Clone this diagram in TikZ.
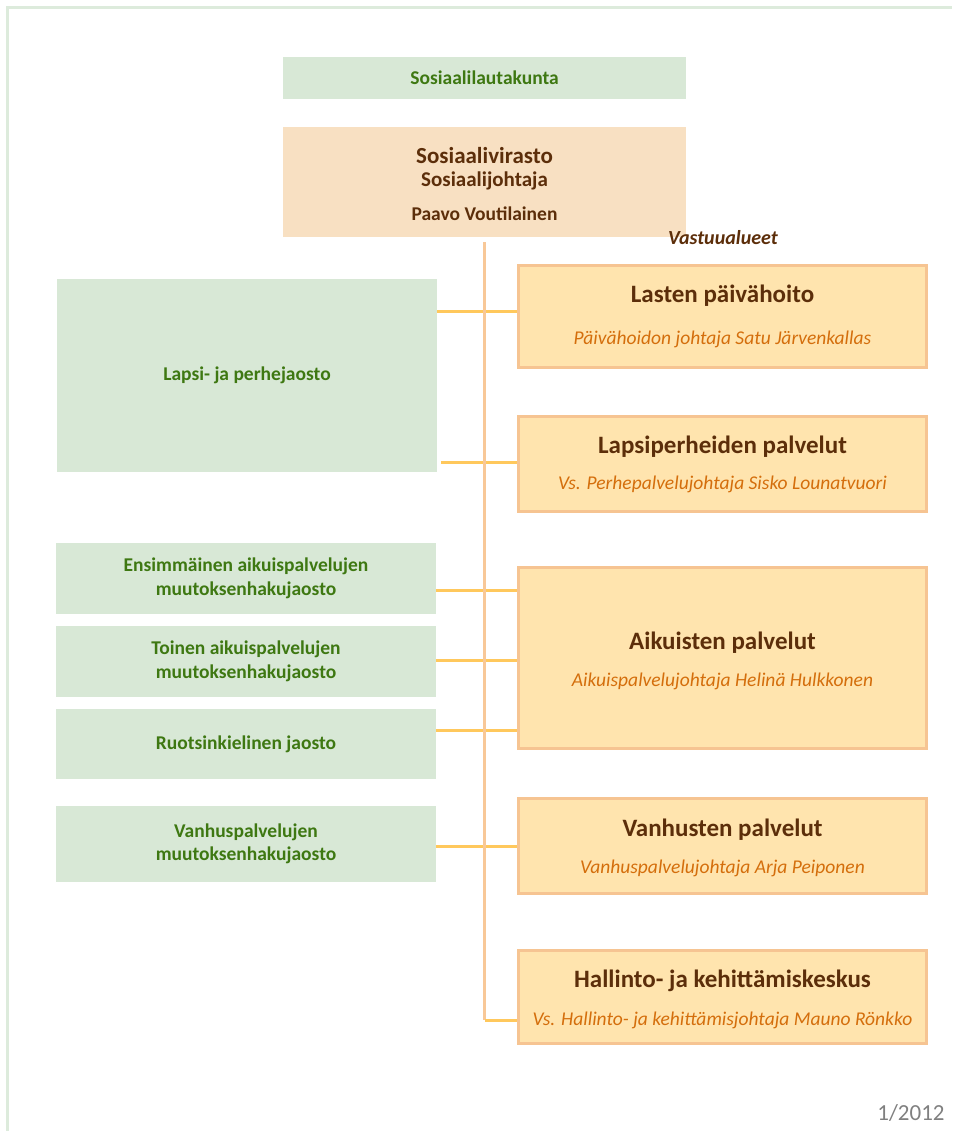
\documentclass[tikz,border=0pt]{standalone}
\usepackage{fontspec}
\setmainfont{Carlito}
\usetikzlibrary{calc}
\definecolor{gfill}{RGB}{216,232,214}
\definecolor{gtext}{RGB}{62,120,18}
\definecolor{pfill}{RGB}{248,224,194}
\definecolor{btext}{RGB}{92,46,10}
\definecolor{ofill}{RGB}{255,228,174}
\definecolor{oborder}{RGB}{246,196,146}
\definecolor{otext}{RGB}{212,110,12}
\definecolor{yconn}{RGB}{255,200,92}
\definecolor{vconn}{RGB}{248,200,152}
\definecolor{framec}{RGB}{221,235,220}
\definecolor{grayt}{RGB}{128,128,128}
\tikzset{
  gbox/.style={fill=gfill, draw=none, inner sep=0pt, align=center, text=gtext,
    font=\bfseries\fontsize{19.5}{23.5}\selectfont},
  pbox/.style={fill=pfill, draw=none, inner sep=0pt, align=center, text=btext},
  obox/.style={fill=ofill, draw=oborder, line width=3.5pt, inner sep=0pt,
    minimum width=408pt},
  otitle/.style={text=btext, font=\bfseries\fontsize{25}{30}\selectfont, inner sep=0pt},
  osub/.style={text=otext, font=\itshape\fontsize{19.5}{23}\selectfont, inner sep=0pt},
  hconn/.style={draw=yconn, line width=3pt},
  vconnl/.style={draw=vconn, line width=3pt},
}
\begin{document}
\begin{tikzpicture}[x=1pt,y=-1pt]
\useasboundingbox (0,0) rectangle (952,1131);
\draw[framec, line width=3pt] (7,1131) -- (7,8) -- (952,8);

% top boxes
\node[gbox, minimum width=403pt, minimum height=42pt] (lauta) at (484.5,78) {Sosiaalilautakunta};
\node[pbox, minimum width=403pt, minimum height=110pt] (viras) at (484.5,182) {};
\node[text=btext, font=\bfseries\fontsize{23}{27}\selectfont, inner sep=0pt] (virast) at (484.5,156) {Sosiaalivirasto};
\node[text=btext, font=\bfseries\fontsize{21}{25}\selectfont, inner sep=0pt] (johtaja) at (484.5,181) {Sosiaalijohtaja};
\node[text=btext, font=\bfseries\fontsize{19.5}{23}\selectfont, inner sep=0pt] (paavo) at (484.5,214) {Paavo Voutilainen};
\node[text=btext, font=\bfseries\itshape\fontsize{20}{24}\selectfont, inner sep=0pt] (vastuu) at (723,238) {Vastuualueet};

% right boxes
\node[obox, minimum height=102pt] (lasten) at (722.5,316.5) {};
\node[otitle] at (722.5,296) {Lasten päivähoito};
\node[osub] at (722.5,339) {Päivähoidon johtaja Satu Järvenkallas};

\node[obox, minimum height=95pt] (lapsip) at (722.5,464) {};
\node[otitle] at (722.5,447) {Lapsiperheiden palvelut};
\node[osub] at (722.5,484) {Vs. Perhepalvelujohtaja Sisko Lounatvuori};

\node[obox, minimum height=181pt] (aik) at (722.5,658) {};
\node[otitle] at (722.5,643) {Aikuisten palvelut};
\node[osub] at (722.5,681) {Aikuispalvelujohtaja Helinä Hulkkonen};

\node[obox, minimum height=95pt] (vanh) at (722.5,846) {};
\node[otitle] at (722.5,830) {Vanhusten palvelut};
\node[osub] at (722.5,868) {Vanhuspalvelujohtaja Arja Peiponen};

\node[obox, minimum height=93pt] (hall) at (722.5,997) {};
\node[otitle] at (722.5,981) {Hallinto- ja kehittämiskeskus};
\node[osub] at (722.5,1020) {Vs. Hallinto- ja kehittämisjohtaja Mauno Rönkko};

% left boxes
\node[gbox, minimum width=380pt, minimum height=193pt] (lapsi) at (247,375.5) {Lapsi- ja perhejaosto};
\node[gbox, minimum width=380pt, minimum height=71pt] (ens) at (246,578.5) {Ensimmäinen aikuispalvelujen\\muutoksenhakujaosto};
\node[gbox, minimum width=380pt, minimum height=71pt] (toinen) at (246,661.5) {Toinen aikuispalvelujen\\muutoksenhakujaosto};
\node[gbox, minimum width=380pt, minimum height=70pt] (ruots) at (246,744) {Ruotsinkielinen jaosto};
\node[gbox, minimum width=380pt, minimum height=76pt] (vanhj) at (246,844) {Vanhuspalvelujen\\muutoksenhakujaosto};

% connectors
\draw[hconn] (lapsi.east |- {0,311}) -- (lasten.west |- {0,311});
\draw[hconn] ([xshift=4pt]lapsi.east |- {0,462}) -- (lapsip.west |- {0,462});
\draw[hconn] (ens.east |- {0,590}) -- (aik.west |- {0,590});
\draw[hconn] (toinen.east |- {0,660}) -- (aik.west |- {0,660});
\draw[hconn] (ruots.east |- {0,730}) -- (aik.west |- {0,730});
\draw[hconn] (vanhj.east |- {0,846}) -- (vanh.west |- {0,846});
\coordinate (vtop) at ([yshift=-5pt]viras.south);
\coordinate (vbot) at (vtop |- {0,1020});
\draw[vconnl] (vtop) -- (vbot);
\draw[hconn] (vbot) -- (hall.west |- vbot);

\node[text=grayt, font=\fontsize{23}{27}\selectfont, inner sep=0pt] (year) at (911,1113) {1/2012};
\end{tikzpicture}
\end{document}
